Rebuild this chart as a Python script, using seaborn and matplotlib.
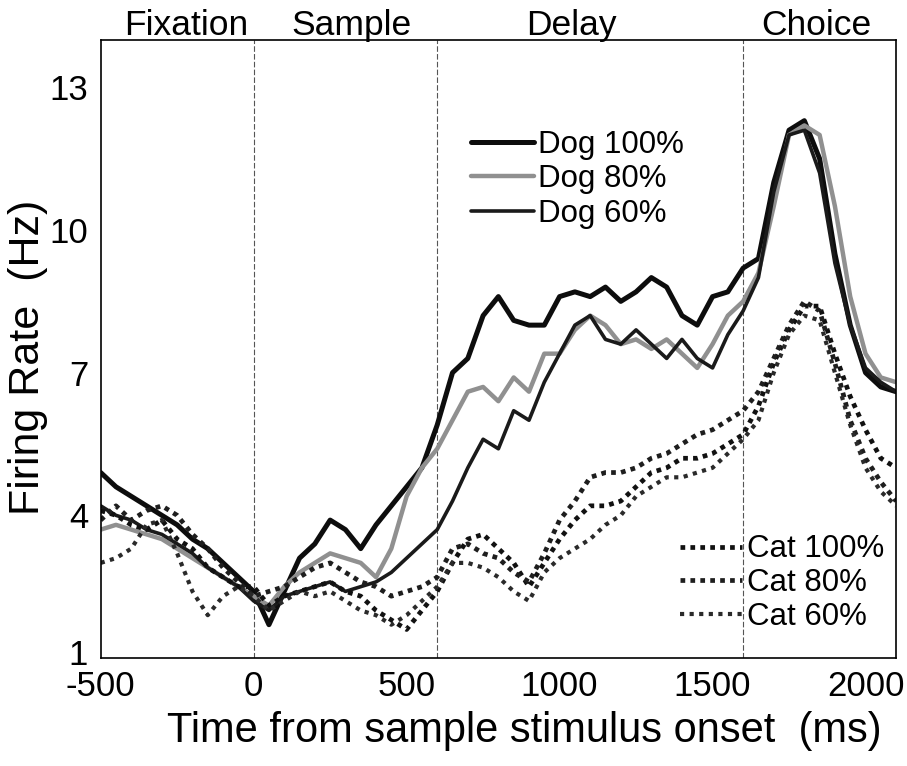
import numpy as np
import pandas as pd
import matplotlib
matplotlib.use("Agg")
import matplotlib.pyplot as plt
import matplotlib.transforms as mtransforms
import seaborn as sns

# Time axis (ms from sample stimulus onset), 50 ms bins
time_ms = list(range(-500, 2101, 50))

dog_100 = [4.9, 4.6, 4.4, 4.2, 4.0, 3.8, 3.5, 3.3, 3.0, 2.7, 2.4,
           1.7, 2.4, 3.1, 3.4, 3.9, 3.7, 3.3, 3.8, 4.2, 4.6, 5.0,
           5.9, 7.0, 7.3, 8.2, 8.6, 8.1, 8.0, 8.0, 8.6, 8.7, 8.6,
           8.8, 8.5, 8.7, 9.0, 8.8, 8.2, 8.0, 8.6, 8.7, 9.2, 9.4,
           11.0, 12.1, 12.3, 11.5, 9.5, 8.0, 7.0, 6.7, 6.6]
dog_80 = [3.7, 3.8, 3.7, 3.6, 3.5, 3.3, 3.1, 2.9, 2.7, 2.5, 2.3,
          2.1, 2.5, 2.8, 3.0, 3.2, 3.1, 3.0, 2.7, 3.3, 4.4, 5.0,
          5.4, 6.0, 6.6, 6.7, 6.4, 6.9, 6.6, 7.4, 7.4, 7.9, 8.2,
          8.0, 7.6, 7.7, 7.5, 7.7, 7.4, 7.1, 7.6, 8.2, 8.5, 9.1,
          10.5, 12.0, 12.2, 12.0, 10.5, 8.6, 7.4, 6.9, 6.8]
dog_60 = [4.2, 4.0, 3.9, 3.7, 3.6, 3.4, 3.2, 2.9, 2.7, 2.5, 2.2,
          2.0, 2.3, 2.4, 2.5, 2.6, 2.4, 2.5, 2.6, 2.8, 3.1, 3.4,
          3.7, 4.3, 5.0, 5.6, 5.4, 6.2, 6.0, 6.8, 7.4, 8.0, 8.2,
          7.7, 7.6, 7.9, 7.6, 7.3, 7.7, 7.3, 7.1, 7.8, 8.3, 9.0,
          10.8, 12.0, 12.1, 11.2, 9.3, 8.0, 7.1, 6.8, 6.6]

cat_100 = [4.1, 4.0, 3.8, 3.7, 3.9, 3.5, 3.3, 2.9, 2.7, 2.5, 2.5,
           2.1, 2.3, 2.4, 2.5, 2.6, 2.4, 2.3, 2.0, 1.8, 1.6, 2.0,
           2.4, 3.0, 3.5, 3.6, 3.3, 3.0, 2.5, 3.0, 3.5, 3.9, 4.2,
           4.2, 4.3, 4.6, 4.9, 5.0, 5.2, 5.2, 5.3, 5.5, 5.7, 6.3,
           7.2, 7.9, 8.4, 8.4, 7.4, 6.5, 5.8, 5.2, 5.0]
cat_80 = [3.9, 4.2, 3.9, 4.1, 4.2, 4.0, 3.6, 3.3, 2.9, 2.6, 2.3,
          2.4, 2.5, 2.7, 2.9, 3.0, 2.8, 2.6, 2.5, 2.3, 2.4, 2.5,
          2.7, 3.3, 3.4, 3.2, 3.1, 2.8, 2.6, 3.2, 3.9, 4.3, 4.8,
          4.9, 4.9, 5.0, 5.2, 5.3, 5.5, 5.7, 5.8, 6.0, 6.2, 6.6,
          7.3, 8.0, 8.5, 8.3, 7.2, 6.0, 5.2, 4.7, 4.3]
cat_60 = [3.0, 3.1, 3.3, 3.8, 3.9, 3.2, 2.4, 1.9, 2.3, 2.5, 2.3,
          2.0, 2.2, 2.4, 2.3, 2.4, 2.2, 2.0, 1.9, 1.7, 1.9, 2.2,
          2.5, 3.0, 3.0, 2.9, 2.7, 2.4, 2.2, 2.8, 3.1, 3.3, 3.5,
          3.8, 4.0, 4.4, 4.6, 4.8, 4.8, 4.9, 5.0, 5.3, 5.6, 6.0,
          7.0, 7.8, 8.2, 8.1, 7.0, 5.9, 5.0, 4.5, 4.2]

series_labels = ["Dog 100%", "Dog 80%", "Dog 60%", "Cat 100%", "Cat 80%", "Cat 60%"]
series_values = [dog_100, dog_80, dog_60, cat_100, cat_80, cat_60]

epoch_names = ["Fixation", "Sample", "Delay", "Choice"]
epoch_centers = [-222, 320, 1039, 1840]
epoch_bounds = [0, 600, 1600]

y_ticks = [1, 4, 7, 10, 13]
x_ticks = [-500, 0, 500, 1000, 1500, 2000]

df = pd.DataFrame({
    "time": np.tile(time_ms, len(series_labels)),
    "rate": np.concatenate(series_values),
    "condition": np.repeat(series_labels, len(time_ms)),
})

sns.set_theme(style="white")
plt.rcParams["font.family"] = ["Liberation Sans", "DejaVu Sans"]
plt.rcParams["axes.unicode_minus"] = False
for key in ("text.color", "axes.labelcolor", "xtick.color", "ytick.color"):
    plt.rcParams[key] = "black"

styles = {
    "Dog 100%": dict(color="#0d0d0d", lw=3.6, ls="-"),
    "Dog 80%": dict(color="#909090", lw=3.2, ls="-"),
    "Dog 60%": dict(color="#1a1a1a", lw=2.6, ls="-"),
    "Cat 100%": dict(color="#111111", lw=3.4, ls=(0, (1, 1.1))),
    "Cat 80%": dict(color="#1e1e1e", lw=3.4, ls=(0, (1, 1.1))),
    "Cat 60%": dict(color="#2a2a2a", lw=3.0, ls=(0, (1, 1.3))),
}

fig = plt.figure(figsize=(9.07, 7.66), dpi=100)
ax = fig.add_axes([0.111, 0.141, 0.877, 0.807])

handles = {}
for name in series_labels:
    st = styles[name]
    sns.lineplot(data=df[df["condition"] == name], x="time", y="rate",
                 ax=ax, color=st["color"], linewidth=st["lw"],
                 linestyle=st["ls"], legend=False, label=name)
    handles[name] = ax.lines[-1]

for b in epoch_bounds:
    ax.axvline(b, color="#555555", lw=0.8, ls=(0, (5, 2)), zorder=0)

ax.set_xlim(-500, 2100)
ax.set_ylim(1, 14)
ax.set_xticks(x_ticks)
ax.set_yticks(y_ticks)
ax.tick_params(direction="in", length=6, width=1, labelsize=25)
ax.tick_params(axis="x", pad=9)
ax.tick_params(axis="y", pad=9)
for sp in ax.spines.values():
    sp.set_color("black")
    sp.set_linewidth(1.2)

# lift the lowest y tick label a little so it clears the x tick labels
fig.canvas.draw()
lift = mtransforms.ScaledTranslation(0, 4 / 72, fig.dpi_scale_trans)
first_ylabel = ax.get_yticklabels()[0]
first_ylabel.set_transform(first_ylabel.get_transform() + lift)

ax.set_xlabel("Time from sample stimulus onset  (ms)", fontsize=30)
ax.set_ylabel("Firing Rate  (Hz)", fontsize=31)
ax.xaxis.set_label_coords(0.533, -0.085)
ax.yaxis.set_label_coords(-0.066, 0.487)

for name, xc in zip(epoch_names, epoch_centers):
    ax.text(xc, 1.008, name, transform=ax.get_xaxis_transform(),
            ha="center", va="baseline", fontsize=25.5)

dog_names = series_labels[:3]
cat_names = series_labels[3:]
leg1 = ax.legend([handles[n] for n in dog_names], dog_names, loc="upper left",
                 bbox_to_anchor=(0.45, 0.875), frameon=False, fontsize=22.5,
                 handlelength=2.0, handletextpad=0.15, labelspacing=0.15,
                 borderaxespad=0)
ax.add_artist(leg1)
ax.legend([handles[n] for n in cat_names], cat_names, loc="upper left",
          bbox_to_anchor=(0.712, 0.22), frameon=False, fontsize=22.5,
          handlelength=2.0, handletextpad=0.15, labelspacing=0.12,
          borderaxespad=0)

fig.savefig("out.png", dpi=100)
